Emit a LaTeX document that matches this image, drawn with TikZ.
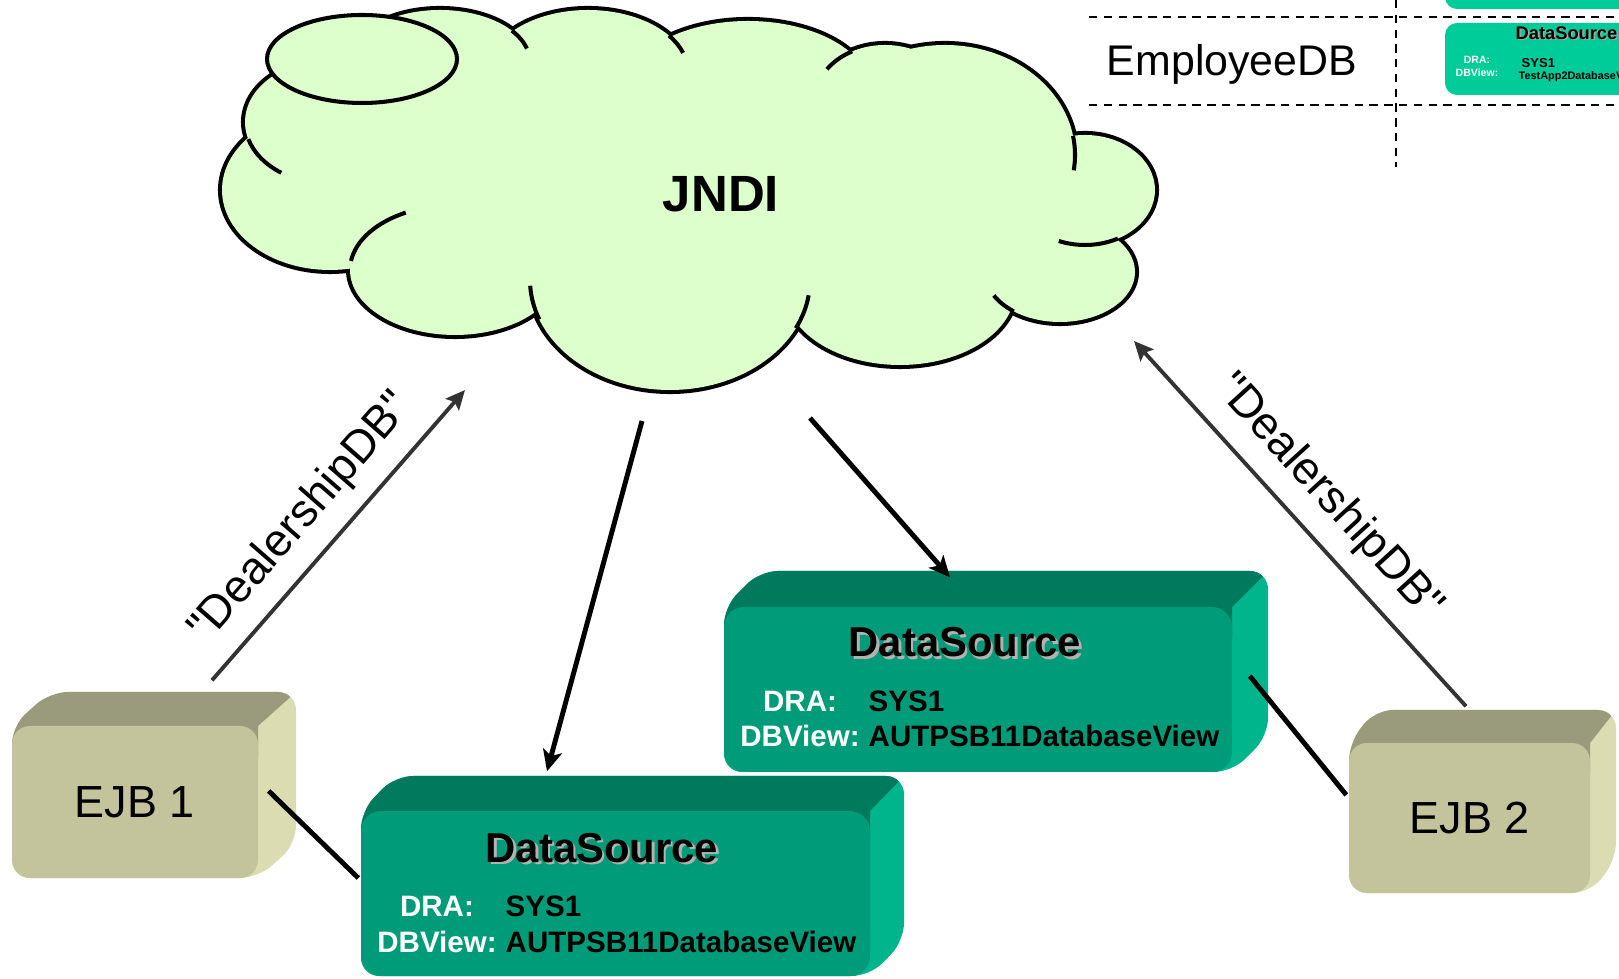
\documentclass[tikz,border=0pt]{standalone}
\usepackage{fontspec}
\setmainfont{Liberation Sans}[Ligatures=TeXOff]
\usetikzlibrary{arrows.meta,calc,positioning}

\definecolor{cloudgreen}{HTML}{DDFFCC}
\definecolor{ejbfront}{HTML}{C4C49C}
\definecolor{ejbtop}{HTML}{9A9A7C}
\definecolor{ejbside}{HTML}{DCDCB2}
\definecolor{dsfront}{HTML}{009B78}
\definecolor{dstop}{HTML}{007A5C}
\definecolor{dsside}{HTML}{00B48C}
\definecolor{dslight}{HTML}{00CC99}
\definecolor{arrowgray}{HTML}{333333}

% top and right faces of a raised box: x1, top y, x2, bottom y, depth x, depth y, top colour, side colour
\newcommand{\solidbox}[8]{%
	\begin{scope}
		\clip[rounded corners=1.8mm] (#1,-#4) -- (#1,-#2) -- ({#1+#5},{-#2+#6}) -- ({#3+#5},{-#2+#6})
			-- ({#3+#5},{-#4+#6}) -- (#3,-#4) -- cycle;
		\fill[#8] ({#1-60},{-#4-60}) rectangle ({#3+#5+60},{-#2+#6+60});
		\fill[#7] ({#1-60},{-#2-30}) -- ({#1-60},{-#2+#6+60}) -- ({#3+#5*(#6+60)/#6},{-#2+#6+60})
			-- (#3,-#2) -- (#3,{-#2-30}) -- cycle;
	\end{scope}}

\tikzset{
	ejb/.style={fill=ejbfront, rounded corners=1.8mm, inner sep=0pt, font=\fontsize{12.8}{14}\selectfont},
	ds/.style={fill=dsfront, rounded corners=2mm, inner sep=0pt},
	dstitle/.style={font=\fontsize{11.9}{13}\selectfont\bfseries, inner sep=0pt, anchor=base},
	dskey/.style={font=\fontsize{8.4}{9}\selectfont\bfseries, text=white, inner sep=0pt, anchor=base},
	dsval/.style={font=\fontsize{8.4}{9}\selectfont\bfseries, inner sep=0pt, anchor=base west},
	lookup/.style={draw=arrowgray, line width=1.1pt, -{Stealth[length=5.5pt,width=5pt,inset=1pt]}},
	bind/.style={line width=1.4pt, -{Stealth[length=6pt,width=5.5pt,inset=1.5pt]}},
	link/.style={line width=1.4pt},
	cloudline/.style={line width=1.15pt},
	tableline/.style={line width=0.6pt, dash pattern=on 2.4pt off 1.8pt},
}

\begin{document}
\begin{tikzpicture}[x=0.1mm, y=0.1mm]
	\useasboundingbox (0,0) rectangle (1619,-979);
	\clip (0,0) rectangle (1619,-979);

	% lookup table, top right
	\draw[tableline] (1089,-17) -- (1619,-17);
	\draw[tableline] (1089,-105) -- (1619,-105);
	\draw[tableline] (1396,0) -- (1396,-167);
	\fill[dslight, rounded corners=1.2mm] (1445,20) rectangle (1700,-9);
	\fill[dslight, rounded corners=1.2mm] (1445,-23) rectangle (1700,-95);
	\node[font=\fontsize{12.2}{14}\selectfont] (empname) at (1232,-64) {EmployeeDB};
	\node[font=\fontsize{5.2}{6}\selectfont\bfseries, text=gray!70, anchor=west, inner sep=0pt] at (1516.5,-34.5) {DataSource};
	\node[font=\fontsize{5.2}{6}\selectfont\bfseries, anchor=west, inner sep=0pt] (emptitle) at (1515,-33) {DataSource};
	\node[font=\fontsize{3}{4}\selectfont\bfseries, text=white, inner sep=0pt] (empdra) at (1477,-60) {DRA:};
	\node[font=\fontsize{3}{4}\selectfont\bfseries, text=white, inner sep=0pt] (empview) at (1477,-73) {DBView:};
	\node[font=\fontsize{3.7}{4}\selectfont\bfseries, anchor=west, inner sep=0pt] (empsys) at (1521,-63) {SYS1};
	\node[font=\fontsize{3.1}{4}\selectfont\bfseries, anchor=west, inner sep=0pt] (empdb) at (1518,-77) {TestApp2DatabaseView};

	% JNDI cloud
	\foreach \cx/\cy/\rx/\ry in {440/62/90/52, 588/72/100/62, 748/91/122.6/70, 885/100/70/55, 945/155/130/110,
		1085/190/70/55, 1060/272/75/50, 900/290/115/75, 670/280/140/110,
		455/270/105/65, 330/190/108/80, 330/122/85/62}
		\draw[line width=2.3pt] (\cx,-\cy) ellipse [x radius=\rx, y radius=\ry];
	\foreach \cx/\cy/\rx/\ry in {440/62/90/52, 588/72/100/62, 748/91/122.6/70, 885/100/70/55, 945/155/130/110,
		1085/190/70/55, 1060/272/75/50, 900/290/115/75, 670/280/140/110,
		455/270/105/65, 330/190/108/80, 330/122/85/62}
		\fill[cloudgreen] (\cx,-\cy) ellipse [x radius=\rx, y radius=\ry];
	\fill[cloudgreen] (300,-100) -- (380,-95) -- (460,-85) -- (520,-75) -- (680,-85) -- (850,-110)
		-- (1060,-180) -- (1100,-250) -- (1000,-295) -- (800,-315) -- (670,-380)
		-- (540,-310) -- (380,-260) -- (260,-170) -- cycle;
	\draw[cloudline] ([shift={(440,-62)}]37:90 and 52) arc [start angle=37, end angle=15, x radius=90, y radius=52];
	\draw[cloudline] ([shift={(588,-72)}]36:100 and 62) arc [start angle=36, end angle=18, x radius=100, y radius=62];
	\draw[cloudline] ([shift={(885,-100)}]118:70 and 55) arc [start angle=118, end angle=146, x radius=70, y radius=55];
	\draw[cloudline] ([shift={(945,-155)}]10:130 and 110) arc [start angle=10, end angle=-8, x radius=130, y radius=110];
	\draw[cloudline] ([shift={(1085,-190)}]-62:70 and 55) arc [start angle=-62, end angle=-112, x radius=70, y radius=55];
	\draw[cloudline] ([shift={(1060,-272)}]-128:75 and 50) arc [start angle=-128, end angle=-152, x radius=75, y radius=50];
	\draw[cloudline] ([shift={(670,-280)}]-26:140 and 110) arc [start angle=-26, end angle=-8, x radius=140, y radius=110];
	\draw[cloudline] ([shift={(670,-280)}]201:140 and 110) arc [start angle=201, end angle=183, x radius=140, y radius=110];
	\draw[cloudline] ([shift={(455,-270)}]172:105 and 65) arc [start angle=172, end angle=118, x radius=105, y radius=65];
	\draw[cloudline] ([shift={(330,-122)}]196:85 and 62) arc [start angle=196, end angle=235, x radius=85, y radius=62];
	\filldraw[fill=cloudgreen, cloudline] (362,-59) ellipse [x radius=95, y radius=44];
	\node[font=\fontsize{14.5}{16}\selectfont\bfseries] (jndi) at (721,-194) {JNDI};

	\coordinate (jndiA) at (642,-421);
	\coordinate (jndiB) at (465,-390);
	\coordinate (jndiC) at (1134,-341);
	\coordinate (jndiD) at (810,-418);

	% EJB 1
	\solidbox{12}{726}{258}{878}{38}{34}{ejbtop}{ejbside}
	\node[ejb, minimum width=24.6mm, minimum height=15.2mm] (ejbA) at (135,-802) {EJB 1};

	% EJB 2
	\solidbox{1349}{743}{1590}{893}{26}{33}{ejbtop}{ejbside}
	\node[ejb, minimum width=24.1mm, minimum height=15mm] (ejbB) at (1469.5,-818) {EJB 2};

	% DataSource, upper
	\solidbox{724}{607}{1232}{772}{36}{36}{dstop}{dsside}
	\node[ds, minimum width=50.8mm, minimum height=16.5mm] (dsB) at (978,-689.5) {};
	\node[dstitle, text=gray!60] at (967.5,-659.5) {DataSource};
	\node[dstitle] (dsBtitle) at (965,-657) {DataSource};
	\node[dskey] (dsBdra) at (800,-712) {DRA:};
	\node[dsval] (dsBsys) at (868,-712) {SYS1};
	\node[dskey] (dsBview) at (800,-746) {DBView:};
	\node[dsval] (dsBdb) at (868,-746) {AUTPSB11DatabaseView};

	% DataSource, lower
	\solidbox{361}{811}{870}{976}{34}{35}{dstop}{dsside}
	\node[ds, minimum width=50.9mm, minimum height=16.5mm] (dsA) at (615.5,-893.5) {};
	\node[dstitle, text=gray!60] at (604.5,-864.5) {DataSource};
	\node[dstitle] (dsAtitle) at (602,-862) {DataSource};
	\node[dskey] (dsAdra) at (437,-916) {DRA:};
	\node[dsval] (dsAsys) at (505,-916) {SYS1};
	\node[dskey] (dsAview) at (437,-952) {DBView:};
	\node[dsval] (dsAdb) at (505,-952) {AUTPSB11DatabaseView};

	% connectors
	\draw[lookup] ($(ejbA.north)+(77,45)$) -- (jndiB)
		node[pos=0.47, sloped, above=4.5pt, inner sep=0pt, font=\fontsize{13}{14}\selectfont] (lblA) {"DealershipDB"};
	\draw[lookup] ($(ejbB.north)+(-3.5,36)$) -- (jndiC)
		node[pos=0.5, sloped, above=4.5pt, inner sep=0pt, font=\fontsize{13}{14}\selectfont] (lblB) {"DealershipDB"};
	\draw[bind] (jndiA) -- ($(dsA.north)+(-68.5,39)$);
	\draw[bind] (jndiD) -- ($(dsB.north)+(-28,29)$);
	\draw[link] ($(ejbA.east)+(10,11)$) -- ($(dsA.west)+(-2,15.5)$);
	\draw[link] ($(dsB.east)+(17,13.5)$) -- ($(ejbB.west)+(-2,23)$);
\end{tikzpicture}
\end{document}
